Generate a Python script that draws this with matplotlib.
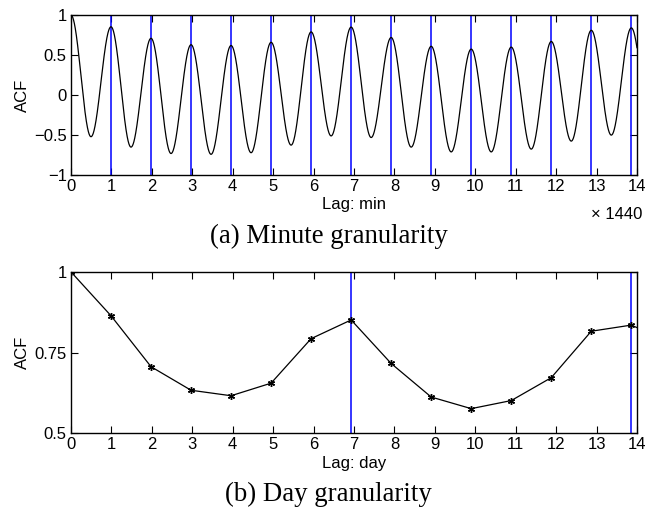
import numpy as np
import matplotlib
matplotlib.use("Agg")
import matplotlib.pyplot as plt

# ACF peaks (at each day) and troughs (half a day later)
minute_peaks = [1.0, 0.854, 0.71, 0.63, 0.62, 0.66, 0.79, 0.85, 0.72, 0.61,
                0.575, 0.60, 0.67, 0.81, 0.84]
minute_troughs = [-0.52, -0.65, -0.73, -0.74, -0.72, -0.625, -0.51, -0.53,
                  -0.65, -0.71, -0.71, -0.675, -0.575, -0.5, -0.5]
# daily ACF, panel (b)
day_acf = [1.0, 0.864, 0.706, 0.633, 0.616, 0.655, 0.793, 0.851, 0.716,
           0.612, 0.576, 0.601, 0.672, 0.816, 0.835, 0.78]
period = 0.99          # observed period, in units of 1440 min
weekly_marks = [0, 7, 14]

# smooth minute curve through the peak/trough values
knots_x, knots_y = [], []
for k in range(len(minute_peaks)):
    knots_x += [k * period, (k + 0.5) * period]
    knots_y += [minute_peaks[k], minute_troughs[k]]
knots_x = np.array(knots_x)
knots_y = np.array(knots_y)
lag = np.arange(0, 14 * 1440 + 1) / 1440.0
idx = np.clip(np.searchsorted(knots_x, lag, side="right") - 1, 0, len(knots_x) - 2)
s = (lag - knots_x[idx]) / (knots_x[idx + 1] - knots_x[idx])
acf_min = knots_y[idx] + (knots_y[idx + 1] - knots_y[idx]) * (1 - np.cos(np.pi * s)) / 2

plt.rcParams['font.family'] = ['Liberation Sans', 'DejaVu Sans']
fs = 12
fig = plt.figure(figsize=(6.47, 5.12), dpi=100)

ax1 = fig.add_axes([0.1097, 0.658, 0.8748, 0.3125])
for k in range(len(minute_peaks)):
    ax1.axvline(k * period, color='#0000ff', lw=1.1)
ax1.plot(lag, acf_min, color='black', lw=0.9)
ax1.set_xlim(0, 14)
ax1.set_ylim(-1, 1)
ax1.set_xticks(range(15))
ax1.set_yticks([-1, -0.5, 0, 0.5, 1])
ax1.set_yticklabels(['\u22121', '\u22120.5', '0', '0.5', '1'])
ax1.set_ylabel('ACF', fontsize=fs, labelpad=3)
ax1.set_xlabel('Lag: min', fontsize=fs, labelpad=2)
ax1.text(1.01, -0.2, '\u00d7 1440', transform=ax1.transAxes, ha='right',
         va='top', fontsize=fs)

ax2 = fig.add_axes([0.1097, 0.154, 0.8748, 0.315])
ax2.axvline(0, color='#0000ff', lw=1.1)
for w in weekly_marks[1:]:
    ax2.axvline(w * period, color='#0000ff', lw=1.1)
day_x = np.arange(len(day_acf)) * period
ax2.plot(day_x, day_acf, color='black', lw=0.9, marker=(6, 2, 0), ms=5,
         mew=1.0)
ax2.set_xlim(0, 14)
ax2.set_ylim(0.5, 1)
ax2.set_xticks(range(15))
ax2.set_yticks([0.5, 0.75, 1])
ax2.set_yticklabels(['0.5', '0.75', '1'])
ax2.set_ylabel('ACF', fontsize=fs, labelpad=3)
ax2.set_xlabel('Lag: day', fontsize=fs, labelpad=3)

for ax in (ax1, ax2):
    ax.tick_params(direction='in', top=True, right=True, length=5,
                   labelsize=fs, pad=3)
    for sp in ax.spines.values():
        sp.set_linewidth(1.0)

fig.text(0.508, 0.538, '(a) Minute granularity', ha='center', va='center',
         fontsize=19.3, family='Liberation Serif')
fig.text(0.507, 0.035, '(b) Day granularity', ha='center', va='center',
         fontsize=19.3, family='Liberation Serif')

fig.savefig('out.png', dpi=100)
